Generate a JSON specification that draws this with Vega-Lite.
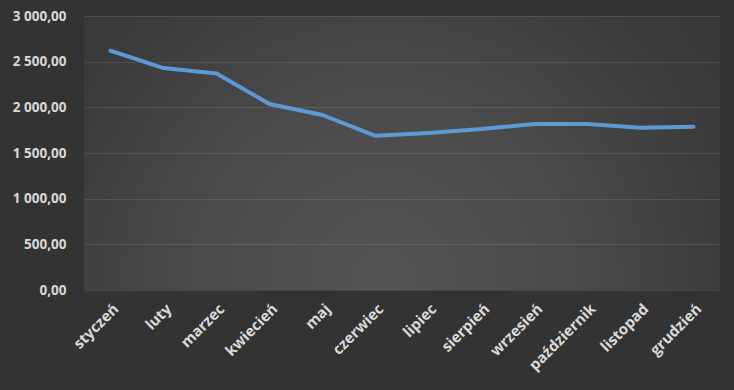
{
  "$schema": "https://vega.github.io/schema/vega-lite/v6.json",
  "width": 636,
  "height": 274,
  "autosize": {"type": "none"},
  "padding": {"left": 84, "top": 16, "right": 14, "bottom": 100},
  "background": "#333333",
  "config": {
    "locale": {"number": {"decimal": ",", "thousands": "\u00a0", "grouping": [3], "currency": ["", ""]}},
    "view": {
      "stroke": null,
      "fill": {
        "gradient": "radial",
        "x1": 0.47, "y1": 0.7, "r1": 0,
        "x2": 0.47, "y2": 0.7, "r2": 1.0,
        "stops": [
          {"offset": 0, "color": "#545454"},
          {"offset": 0.3, "color": "#4a4a4a"},
          {"offset": 0.55, "color": "#3b3b3b"},
          {"offset": 0.8, "color": "#323232"},
          {"offset": 1, "color": "#2c2c2c"}
        ]
      }
    },
    "axis": {
      "labelFont": "Open Sans",
      "labelFontWeight": "bold",
      "labelColor": "#d9d9d9",
      "domain": false,
      "ticks": false,
      "title": null
    }
  },
  "data": {
    "values": [
      {"miesiac": "styczeń", "wartosc": 2620},
      {"miesiac": "luty", "wartosc": 2430},
      {"miesiac": "marzec", "wartosc": 2370},
      {"miesiac": "kwiecień", "wartosc": 2037},
      {"miesiac": "maj", "wartosc": 1916},
      {"miesiac": "czerwiec", "wartosc": 1688},
      {"miesiac": "lipiec", "wartosc": 1719},
      {"miesiac": "sierpień", "wartosc": 1762},
      {"miesiac": "wrzesień", "wartosc": 1818},
      {"miesiac": "październik", "wartosc": 1818},
      {"miesiac": "listopad", "wartosc": 1777},
      {"miesiac": "grudzień", "wartosc": 1788}
    ]
  },
  "mark": {"type": "line", "color": "#5b9bd5", "strokeWidth": 4, "strokeCap": "round", "strokeJoin": "round"},
  "encoding": {
    "x": {
      "field": "miesiac",
      "type": "ordinal",
      "sort": null,
      "scale": {"type": "point", "padding": 0.5},
      "axis": {"labelAngle": -45, "grid": false, "labelPadding": 11, "labelFontSize": 15}
    },
    "y": {
      "field": "wartosc",
      "type": "quantitative",
      "scale": {"domain": [0, 3000]},
      "axis": {
        "values": [0, 500, 1000, 1500, 2000, 2500, 3000],
        "format": ",.2f",
        "grid": true,
        "gridColor": "#ffffff",
        "gridOpacity": 0.1,
        "gridWidth": 1,
        "labelPadding": 18,
        "labelFontSize": 13.5
      }
    }
  }
}
